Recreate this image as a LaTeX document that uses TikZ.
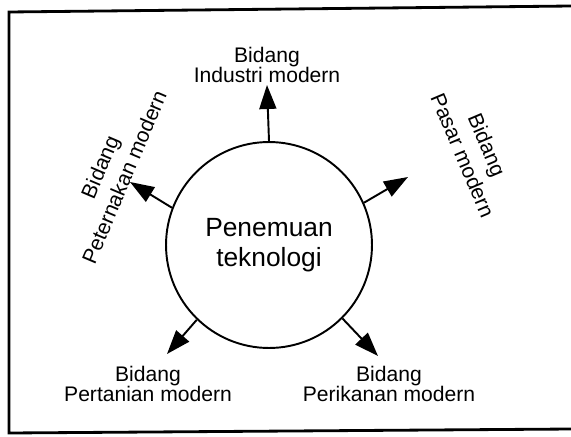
\documentclass[tikz,border=0pt]{standalone}
\usepackage{fontspec}
\setmainfont{Liberation Sans}
\usetikzlibrary{arrows.meta,positioning}

\begin{document}
\begin{tikzpicture}[
    x=0.02cm, y=-0.02cm,
    hub/.style={circle, draw, line width=1.1pt, minimum size=4.12cm, inner sep=0pt, align=center, font=\fontsize{15}{17}\selectfont},
    field/.style={align=center, inner sep=0pt, font=\fontsize{12}{11.5}\selectfont},
    slanted/.style={field, font=\fontsize{12}{15}\selectfont},
    arrow/.style={-{Triangle[length=0.48cm, width=0.34cm]}, line width=1.1pt},
    frame/.style={line width=1.6pt}
]
\useasboundingbox (0,0) rectangle (571,436);

% Frame (open on the right)
\draw[frame] (571,6) -- (9,12) -- (9,433) -- (571,429);

% Centre
\node[hub] (tech) at (269,245) {Penemuan\\teknologi};

% Fields
\node[field] (industri) at (267,65) {Bidang\\Industri modern};
\node[slanted, rotate=67] (ternak) at (112,172) {Bidang\\Peternakan modern};
\node[slanted, rotate=-67] (pasar) at (475,150) {Bidang\\Pasar modern};
\node[field] (tani) at (148,384) {Bidang\\Pertanian modern};
\node[field] (ikan) at (389,384) {Bidang\\Perikanan modern};

% Arrow tips
\coordinate (tipI) at (267,85);
\coordinate (tipT) at (130,182);
\coordinate (tipP) at (408,177);
\coordinate (tipA) at (167,354);
\coordinate (tipK) at (378,356);

% Arrows
\draw[arrow] (tech.90) -- (tipI);
\draw[arrow] (tech.159) -- (tipT);
\draw[arrow] (tech.24) -- (tipP);
\draw[arrow] (tech.226) -- (tipA);
\draw[arrow] (tech.315) -- (tipK);
\end{tikzpicture}
\end{document}
